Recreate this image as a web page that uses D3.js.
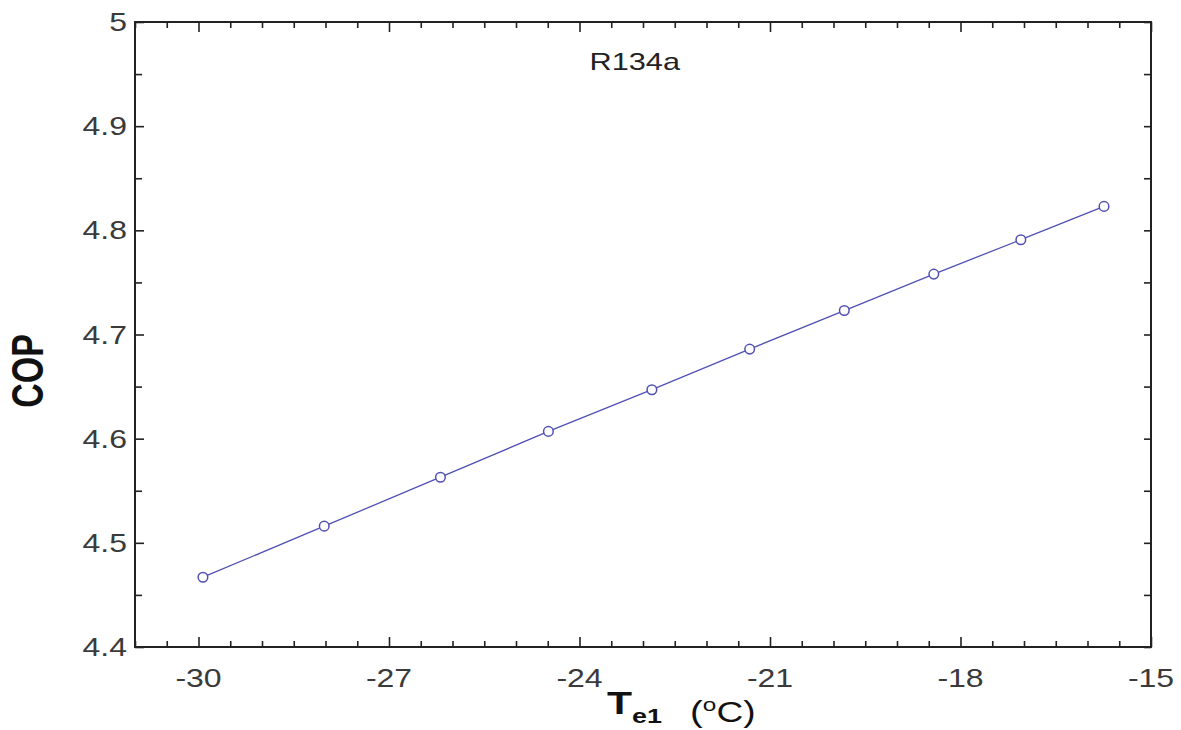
<!DOCTYPE html>
<html>
<head>
<meta charset="utf-8">
<script src="https://cdn.jsdelivr.net/npm/d3@7"></script>
<style>
body { margin: 0; background: #fff; }
text { font-family: "Liberation Sans", Arial, sans-serif; }
</style>
</head>
<body>
<div id="chart"></div>
<script>
// values
var teValues = [-29.93, -28.02, -26.19, -24.49, -22.86, -21.32, -19.83, -18.42, -17.05, -15.74];
var copValues = [4.467, 4.516, 4.563, 4.607, 4.647, 4.686, 4.723, 4.758, 4.791, 4.823];
var xTickLabels = [-30, -27, -24, -21, -18, -15];
var yTickLabels = [4.4, 4.5, 4.6, 4.7, 4.8, 4.9, 5];
var seriesName = "R134a";

function init()
{
    var w = 1181;
    var h = 730;
    var left = 135, right = 1151, top = 22, bottom = 647;
    var sx = 1.28; // the original picture is stretched sideways
    var lineColor = "#5050b4";

    var xScale = d3.scaleLinear().domain([-31, -15]).range([left, right]);
    var yScale = d3.scaleLinear().domain([4.4, 5]).range([bottom, top]);

    var svg = d3.select("#chart")
                .append("svg")
                .attr("width", w)
                .attr("height", h);

    // tick marks, all pointing inward
    var xMinor = d3.range(-31, -14.99, 0.5).filter(function(d){ return d % 3 !== 0; });
    var yMinor = d3.range(4.45, 5, 0.1);

    function tickGroup(axis, transform)
    {
        var g = svg.append("g").attr("transform", transform).call(axis);
        g.select(".domain").remove();
        g.selectAll("line").attr("stroke", "#222").attr("stroke-width", 1.6);
        return g;
    }
    tickGroup(d3.axisBottom(xScale).tickValues(xTickLabels).tickSizeInner(-10).tickSizeOuter(0).tickFormat(""),
        "translate(0," + bottom + ")");
    tickGroup(d3.axisBottom(xScale).tickValues(xMinor).tickSizeInner(-6).tickSizeOuter(0).tickFormat(""),
        "translate(0," + bottom + ")");
    tickGroup(d3.axisTop(xScale).tickValues(xTickLabels).tickSizeInner(-10).tickSizeOuter(0).tickFormat(""),
        "translate(0," + top + ")");
    tickGroup(d3.axisTop(xScale).tickValues(xMinor).tickSizeInner(-6).tickSizeOuter(0).tickFormat(""),
        "translate(0," + top + ")");
    tickGroup(d3.axisLeft(yScale).tickValues(yTickLabels).tickSizeInner(-9).tickSizeOuter(0).tickFormat(""),
        "translate(" + left + ",0)");
    tickGroup(d3.axisLeft(yScale).tickValues(yMinor).tickSizeInner(-7).tickSizeOuter(0).tickFormat(""),
        "translate(" + left + ",0)");
    tickGroup(d3.axisRight(yScale).tickValues(yTickLabels).tickSizeInner(-7).tickSizeOuter(0).tickFormat(""),
        "translate(" + right + ",0)");
    tickGroup(d3.axisRight(yScale).tickValues(yMinor).tickSizeInner(-7).tickSizeOuter(0).tickFormat(""),
        "translate(" + right + ",0)");

    // frame
    svg.append("rect")
        .attr("x", left)
        .attr("y", top)
        .attr("width", right - left)
        .attr("height", bottom - top)
        .attr("fill", "none")
        .attr("stroke", "#222")
        .attr("stroke-width", 2);

    // tick labels
    svg.selectAll(".xlab")
        .data(xTickLabels)
        .enter()
        .append("text")
        .attr("class", "xlab")
        .attr("transform", function(d){
            return "translate(" + xScale(d) + "," + (bottom + 40) + ") scale(" + sx + ",1)";
        })
        .attr("text-anchor", "middle")
        .attr("font-size", 25)
        .attr("fill", "#3a3a3a")
        .text(function(d){ return d; });

    svg.selectAll(".ylab")
        .data(yTickLabels)
        .enter()
        .append("text")
        .attr("class", "ylab")
        .attr("transform", function(d){
            return "translate(" + (left - 8) + "," + (yScale(d) + 9) + ") scale(" + sx + ",1)";
        })
        .attr("text-anchor", "end")
        .attr("font-size", 25)
        .attr("fill", "#3a3a3a")
        .text(function(d){ return d; });

    // axis titles
    svg.append("text")
        .attr("transform", "translate(43,371) scale(" + sx + ",1) rotate(-90)")
        .attr("text-anchor", "middle")
        .attr("font-size", 34)
        .attr("font-weight", "bold")
        .attr("fill", "#111")
        .text("COP");

    var xt = svg.append("text")
        .attr("transform", "translate(607,0) scale(" + sx + ",1)")
        .attr("fill", "#111");
    xt.append("tspan").attr("x", 0).attr("y", 714).attr("font-size", 32).attr("font-weight", "bold").text("T");
    xt.append("tspan").attr("y", 723).attr("font-size", 21).attr("font-weight", "bold").text("e1");
    xt.append("tspan").attr("y", 722).attr("dx", 22).attr("font-size", 30).text("(");
    xt.append("tspan").attr("y", 711).attr("font-size", 19).text("o");
    xt.append("tspan").attr("y", 722).attr("font-size", 29).text("C)");

    // series label
    svg.append("text")
        .attr("transform", "translate(" + xScale(-23.13) + "," + yScale(4.954) + ") scale(" + sx + ",1)")
        .attr("text-anchor", "middle")
        .attr("font-size", 24)
        .attr("fill", "#222")
        .text(seriesName);

    // line and points
    var points = teValues.map(function(d, i){ return [d, copValues[i]]; });
    var line = d3.line()
        .x(function(d){ return xScale(d[0]); })
        .y(function(d){ return yScale(d[1]); });

    svg.append("path")
        .datum(points)
        .attr("d", line)
        .attr("fill", "none")
        .attr("stroke", lineColor)
        .attr("stroke-width", 1.3);

    svg.selectAll("circle")
        .data(points)
        .enter()
        .append("circle")
        .attr("cx", function(d){ return xScale(d[0]); })
        .attr("cy", function(d){ return yScale(d[1]); })
        .attr("r", 4.8)
        .attr("fill", "#fff")
        .attr("stroke", lineColor)
        .attr("stroke-width", 1.5);
}
window.onload = init;
</script>
</body>
</html>
